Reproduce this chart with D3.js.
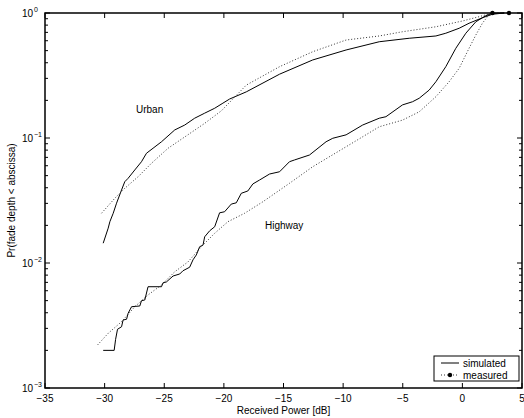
<!DOCTYPE html>
<html>
<head>
<meta charset="utf-8">
<script src="https://cdn.jsdelivr.net/npm/d3@7"></script>
<style>
  body { margin: 0; background: #fff; }
  text { font-family: "Liberation Sans", Arial, sans-serif; font-size: 10px; fill: #000; }
</style>
</head>
<body>
<div id="plot"></div>
<script>
// values (x in dB, y = probability)
var urbanSimX = [-30.12, -29.7, -29.56, -29.28, -29.0, -28.58, -28.31, -28.03, -27.47, -26.91, -26.49, -25.94, -25.23, -24.12, -23.28, -22.45, -21.61, -20.77, -20.08, -19.52, -18.12, -15.33, -12.55, -9.75, -6.97, -4.46, -2.22, -1.39, -0.27, 0.56, 1.68, 2.52, 3.5];
var urbanSimP = [0.0144, 0.019, 0.0214, 0.025, 0.0301, 0.0384, 0.0447, 0.0476, 0.0555, 0.0646, 0.0755, 0.0828, 0.0933, 0.116, 0.127, 0.144, 0.158, 0.173, 0.19, 0.205, 0.234, 0.324, 0.421, 0.506, 0.589, 0.628, 0.655, 0.689, 0.755, 0.828, 0.916, 0.977, 1.0];

var urbanMeasX = [-30.26, -29.14, -28.31, -27.19, -26.07, -24.68, -23.28, -21.61, -20.21, -18.12, -15.33, -12.55, -9.75, -6.97, -5.02, -2.22, 0.0, 1.4, 2.52];
var urbanMeasP = [0.025, 0.033, 0.0396, 0.049, 0.0628, 0.0828, 0.102, 0.131, 0.165, 0.265, 0.372, 0.49, 0.608, 0.655, 0.708, 0.776, 0.863, 0.934, 1.0];

var highSimX = [-30.12, -29.2, -29.08, -28.92, -28.58, -28.45, -28.16, -28.03, -27.74, -27.05, -26.91, -26.63, -26.36, -25.23, -25.1, -24.82, -24.26, -23.7, -23.43, -22.87, -22.59, -22.31, -22.03, -21.75, -21.61, -21.19, -20.77, -20.36, -19.94, -19.38, -18.96, -18.54, -17.99, -17.57, -17.01, -16.17, -15.33, -14.5, -14.08, -12.82, -11.43, -10.87, -9.75, -8.36, -6.97, -6.41, -5.02, -4.18, -3.62, -2.78, -2.22, -1.39, -0.55, 0.29, 1.13, 1.96, 2.52, 3.5];
var highSimP = [0.002, 0.002, 0.00245, 0.00295, 0.00309, 0.0035, 0.00355, 0.00396, 0.00447, 0.00453, 0.00499, 0.00506, 0.00646, 0.00646, 0.00695, 0.00705, 0.00787, 0.00817, 0.00867, 0.00925, 0.0106, 0.0116, 0.0135, 0.0139, 0.0162, 0.0181, 0.0195, 0.0252, 0.0257, 0.0296, 0.0303, 0.0361, 0.0377, 0.0429, 0.0461, 0.0515, 0.0537, 0.0646, 0.0667, 0.0731, 0.0933, 0.0995, 0.106, 0.127, 0.144, 0.148, 0.184, 0.195, 0.208, 0.242, 0.282, 0.372, 0.522, 0.689, 0.851, 0.951, 0.995, 1.0];

var highMeasX = [-30.59, -29.7, -28.58, -27.47, -26.36, -25.23, -24.12, -23.01, -21.89, -20.77, -19.66, -18.26, -16.73, -14.5, -12.55, -9.75, -6.97, -5.02, -3.62, -2.22, -1.11, -0.27, 0.56, 1.13, 1.68, 2.1, 2.52, 3.91];
var highMeasP = [0.00221, 0.00274, 0.00339, 0.00447, 0.00555, 0.00667, 0.00851, 0.0102, 0.0135, 0.0173, 0.0214, 0.025, 0.0309, 0.0434, 0.0589, 0.0851, 0.123, 0.139, 0.162, 0.214, 0.282, 0.361, 0.522, 0.667, 0.828, 0.934, 1.0, 1.0];

var xTicks = [-35, -30, -25, -20, -15, -10, -5, 0, 5];
var yTicks = [1e-3, 1e-2, 1e-1, 1];
var yExps = ["\u22123", "\u22122", "\u22121", "0"];

var W = 524, H = 418;
var mLeft = 45, mRight = 522, mTop = 13, mBottom = 388;

var svg = d3.select("div#plot").append("svg")
    .attr("width", W)
    .attr("height", H);

var x = d3.scaleLinear().domain([-35, 5]).range([mLeft, mRight]);
var y = d3.scaleLog().domain([1e-3, 1]).range([mBottom, mTop]);

function pts(xs, ps) {
  return xs.map(function(v, i) { return [v, ps[i]]; });
}

var line = d3.line()
    .x(d => x(d[0]))
    .y(d => y(d[1]));

// minor log ticks
var minor = [];
[1e-3, 1e-2, 1e-1].forEach(function(dec) {
  for (var k = 2; k <= 9; k++) minor.push(dec * k);
});

var tickG = svg.append("g").attr("stroke", "#000").attr("stroke-width", 1);

// x major ticks (bottom and top, inward)
tickG.selectAll(".xb").data(xTicks).enter().append("line")
    .attr("x1", d => x(d)).attr("x2", d => x(d))
    .attr("y1", mBottom).attr("y2", mBottom - 5);
tickG.selectAll(".xt").data(xTicks).enter().append("line")
    .attr("x1", d => x(d)).attr("x2", d => x(d))
    .attr("y1", mTop).attr("y2", mTop + 5);

// y ticks (left and right)
tickG.selectAll(".yl").data(yTicks).enter().append("line")
    .attr("x1", mLeft).attr("x2", mLeft + 5)
    .attr("y1", d => y(d)).attr("y2", d => y(d));
tickG.selectAll(".yr").data(yTicks).enter().append("line")
    .attr("x1", mRight).attr("x2", mRight - 5)
    .attr("y1", d => y(d)).attr("y2", d => y(d));
tickG.selectAll(".ml").data(minor).enter().append("line")
    .attr("x1", mLeft).attr("x2", mLeft + 3)
    .attr("y1", d => y(d)).attr("y2", d => y(d));
tickG.selectAll(".mr").data(minor).enter().append("line")
    .attr("x1", mRight).attr("x2", mRight - 3)
    .attr("y1", d => y(d)).attr("y2", d => y(d));

// curves
var series = [
  {xs: urbanSimX, ps: urbanSimP, dash: null},
  {xs: urbanMeasX, ps: urbanMeasP, dash: "1,2"},
  {xs: highSimX, ps: highSimP, dash: null},
  {xs: highMeasX, ps: highMeasP, dash: "1,2"}
];

series.forEach(function(s) {
  svg.append("path")
      .datum(pts(s.xs, s.ps))
      .attr("fill", "none")
      .attr("stroke", s.dash ? "#333" : "#000")
      .attr("stroke-width", 1)
      .attr("stroke-dasharray", s.dash)
      .attr("d", line);
  if (s.dash) {
    var last = s.xs.length - 1;
    svg.append("circle")
        .attr("cx", x(s.xs[last]))
        .attr("cy", y(s.ps[last]))
        .attr("r", 2.2)
        .attr("fill", "#000");
  }
});

// frame
svg.append("rect")
    .attr("x", mLeft).attr("y", mTop)
    .attr("width", mRight - mLeft).attr("height", mBottom - mTop)
    .attr("fill", "none")
    .attr("stroke", "#000")
    .attr("stroke-width", 1.5);

// tick labels
svg.selectAll(".xl").data(xTicks).enter().append("text")
    .attr("x", d => x(d))
    .attr("y", 402)
    .attr("text-anchor", "middle")
    .text(d => d < 0 ? "\u2212" + Math.abs(d) : d);

var yl = svg.selectAll(".ylab").data(yTicks).enter().append("g");
yl.append("text")
    .attr("x", 33)
    .attr("y", d => y(d) + 4)
    .attr("text-anchor", "end")
    .text("10");
yl.append("text")
    .attr("x", 34)
    .attr("y", d => y(d) - 1)
    .style("font-size", "7px")
    .text((d, i) => yExps[i]);

// axis titles
svg.append("text")
    .attr("x", (mLeft + mRight) / 2)
    .attr("y", 414)
    .attr("text-anchor", "middle")
    .text("Received Power [dB]");

svg.append("text")
    .attr("transform", "translate(15," + ((mTop + mBottom) / 2) + ") rotate(-90)")
    .attr("text-anchor", "middle")
    .text("Pr(fade depth < abscissa)");

// curve labels
svg.append("text").attr("x", 136).attr("y", 113).text("Urban");
svg.append("text").attr("x", 265).attr("y", 229).text("Highway");

// legend
var lg = svg.append("g");
lg.append("rect")
    .attr("x", 434).attr("y", 356)
    .attr("width", 85).attr("height", 25)
    .attr("fill", "#fff")
    .attr("stroke", "#000")
    .attr("stroke-width", 1);
lg.append("line")
    .attr("x1", 441).attr("x2", 459)
    .attr("y1", 363).attr("y2", 363)
    .attr("stroke", "#000");
lg.append("line")
    .attr("x1", 441).attr("x2", 459)
    .attr("y1", 375).attr("y2", 375)
    .attr("stroke", "#333")
    .attr("stroke-dasharray", "1,2");
lg.append("circle")
    .attr("cx", 450).attr("cy", 375).attr("r", 2.2).attr("fill", "#000");
lg.append("text").attr("x", 463).attr("y", 367).text("simulated");
lg.append("text").attr("x", 463).attr("y", 379).text("measured");
</script>
</body>
</html>
